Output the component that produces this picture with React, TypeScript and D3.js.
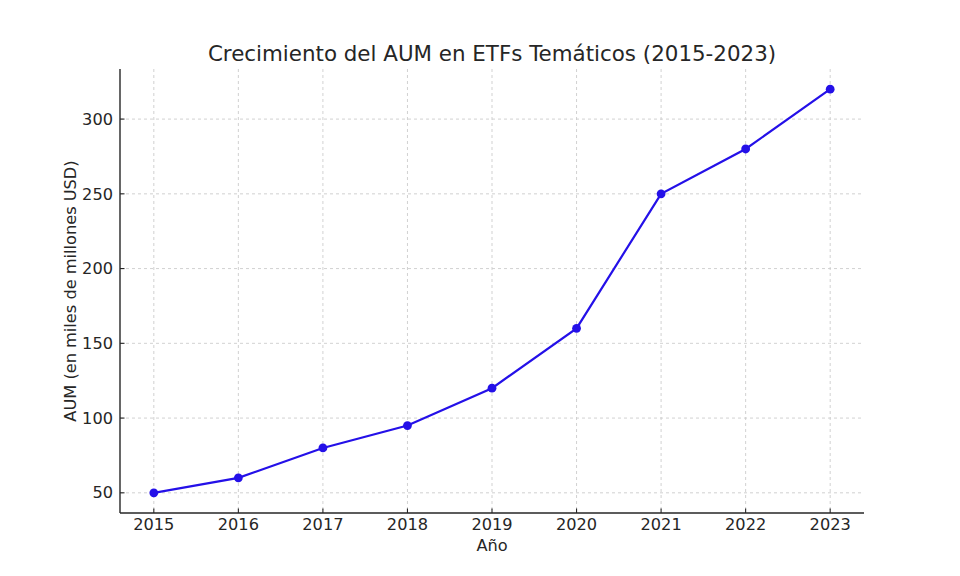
import * as d3 from "d3";

const years = [2015, 2016, 2017, 2018, 2019, 2020, 2021, 2022, 2023];
const aum = [50, 60, 80, 95, 120, 160, 250, 280, 320];
const yTicks = [50, 100, 150, 200, 250, 300];

const W = 960;
const H = 576;
const m = { top: 69, right: 96, bottom: 63, left: 120 };
const lineColor = "#2410e8";
const font = "DejaVu Sans, sans-serif";

export default function App() {
  const iw = W - m.left - m.right;
  const ih = H - m.top - m.bottom;

  const x = d3.scaleLinear().domain([2014.6, 2023.4]).range([0, iw]);
  const y = d3.scaleLinear().domain([36.5, 333.5]).range([ih, 0]);

  const pts = years.map((yr, i) => ({ yr, v: aum[i] }));
  const line = d3
    .line<{ yr: number; v: number }>()
    .x((d) => x(d.yr))
    .y((d) => y(d.v));

  return (
    <svg width={W} height={H} style={{ position: "absolute", left: 0, top: 0, background: "#fff" }} fontFamily={font}>
      <text x={m.left + iw / 2} y={61} textAnchor="middle" fontSize={21.4} fill="#262626">
        Crecimiento del AUM en ETFs Temáticos (2015-2023)
      </text>
      <g transform={`translate(${m.left},${m.top})`}>
        {/* grid */}
        {years.map((yr) => (
          <line key={"gx" + yr} x1={x(yr)} x2={x(yr)} y1={0} y2={ih} stroke="#cccccc" strokeWidth={0.9} strokeDasharray="3,3" />
        ))}
        {yTicks.map((t) => (
          <line key={"gy" + t} x1={0} x2={iw} y1={y(t)} y2={y(t)} stroke="#cccccc" strokeWidth={0.9} strokeDasharray="3,3" />
        ))}

        {/* axes */}
        <line x1={0} x2={0} y1={0} y2={ih} stroke="#262626" strokeWidth={1.4} />
        <line x1={0} x2={iw} y1={ih} y2={ih} stroke="#262626" strokeWidth={1.4} />

        {years.map((yr) => (
          <g key={"tx" + yr} transform={`translate(${x(yr)},${ih})`}>
            <line y1={0} y2={-4.5} stroke="#262626" strokeWidth={1.1} />
            <text y={5} dy="0.71em" textAnchor="middle" fontSize={16.2} fill="#262626">
              {yr}
            </text>
          </g>
        ))}
        {yTicks.map((t) => (
          <g key={"ty" + t} transform={`translate(0,${y(t)})`}>
            <line x1={0} x2={4.5} stroke="#262626" strokeWidth={1.1} />
            <text x={-7} dy="0.35em" textAnchor="end" fontSize={16.2} fill="#262626">
              {t}
            </text>
          </g>
        ))}

        <text x={iw / 2} y={ih + 26} dy="0.71em" textAnchor="middle" fontSize={16.2} fill="#262626">
          Año
        </text>
        <text
          transform={`translate(-44,${ih / 2}) rotate(-90)`}
          textAnchor="middle"
          fontSize={16.2}
          fill="#262626"
        >
          AUM (en miles de millones USD)
        </text>

        <path d={line(pts) ?? ""} fill="none" stroke={lineColor} strokeWidth={2.2} />
        {pts.map((p) => (
          <circle key={p.yr} cx={x(p.yr)} cy={y(p.v)} r={4.4} fill={lineColor} />
        ))}
      </g>
    </svg>
  );
}
